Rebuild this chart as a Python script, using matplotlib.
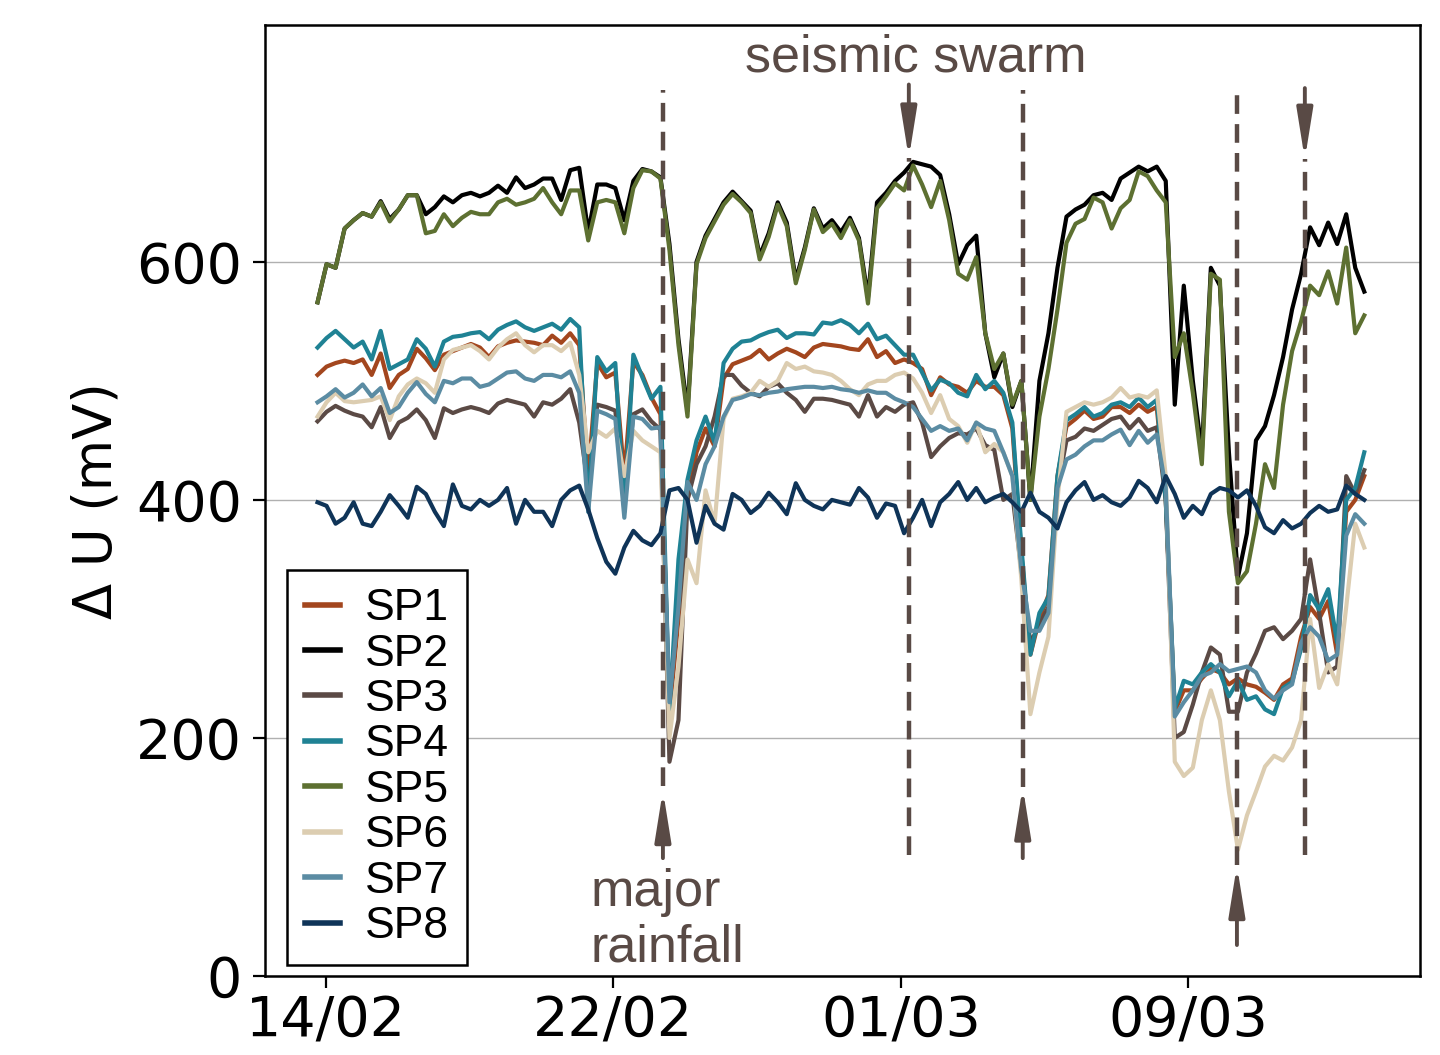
import numpy as np
import matplotlib
matplotlib.use("Agg")
import matplotlib.pyplot as plt

# ---------------- data ----------------
# sample times in days after 14/02 (one reading every ~6 h)
t = -0.234 + 0.2511 * np.arange(117)

SP1 = [505, 512, 515, 517, 515, 518, 505, 523, 494, 505,
       510, 527, 519, 509, 522, 525, 528, 531, 528, 520,
       529, 532, 534, 533, 532, 530, 538, 532, 540, 530,
       420, 515, 503, 507, 420, 516, 505, 486, 472, 220,
       300, 400, 440, 460, 445, 502, 514, 517, 520, 526,
       518, 523, 527, 524, 520, 528, 531, 530, 529, 527,
       526, 535, 520, 525, 515, 518, 515, 510, 488, 503,
       497, 495, 490, 500, 495, 495, 488, 460, 355, 270,
       300, 320, 420, 462, 468, 475, 468, 470, 478, 478,
       473, 480, 474, 478, 400, 222, 240, 240, 250, 258,
       255, 245, 250, 245, 243, 238, 232, 245, 250, 285,
       310, 300, 315, 270, 390, 400, 420]

SP2 = [566, 598, 595, 628, 635, 641, 638, 651, 636, 644,
       656, 656, 640, 646, 655, 650, 656, 658, 655, 658,
       664, 658, 671, 662, 665, 670, 670, 652, 677, 679,
       625, 665, 665, 662, 635, 668, 678, 676, 671, 615,
       535, 475, 600, 622, 636, 650, 659, 651, 643, 605,
       624, 650, 633, 585, 612, 645, 628, 635, 625, 637,
       620, 570, 650, 658, 668, 675, 684, 682, 680, 673,
       640, 598, 614, 622, 540, 503, 523, 478, 500, 400,
       500, 540, 595, 638, 644, 648, 656, 658, 652, 670,
       675, 680, 676, 680, 668, 480, 580, 500, 440, 595,
       580, 440, 335, 372, 450, 462, 488, 520, 560, 590,
       629, 614, 633, 615, 640, 595, 575]

SP3 = [466, 474, 479, 475, 472, 470, 461, 478, 452, 465,
       469, 476, 467, 452, 477, 473, 476, 478, 476, 473,
       481, 484, 482, 480, 470, 482, 480, 485, 493, 465,
       410, 480, 478, 475, 400, 472, 476, 466, 459, 180,
       215, 400, 430, 445, 470, 505, 505, 496, 490, 487,
       495, 498, 490, 484, 474, 485, 485, 484, 482, 480,
       470, 488, 470, 478, 474, 480, 482, 465, 436, 445,
       452, 456, 455, 460, 446, 442, 400, 405, 340, 280,
       295, 310, 410, 450, 453, 460, 458, 463, 468, 470,
       460, 468, 458, 461, 400, 200, 205, 228, 255, 276,
       270, 222, 222, 255, 271, 290, 293, 283, 290, 300,
       350, 305, 255, 260, 420, 405, 425]

SP4 = [528, 536, 542, 535, 528, 533, 518, 542, 510, 514,
       518, 535, 527, 512, 533, 537, 538, 540, 541, 535,
       543, 547, 550, 545, 542, 545, 548, 543, 552, 545,
       390, 520, 508, 515, 390, 522, 503, 485, 495, 222,
       350, 417, 450, 470, 448, 515, 527, 533, 534, 538,
       541, 543, 536, 540, 540, 539, 549, 548, 551, 547,
       540, 548, 535, 538, 530, 522, 522, 507, 492, 501,
       498, 490, 487, 505, 493, 500, 490, 465, 361, 270,
       305, 318, 420, 467, 472, 478, 470, 473, 480, 482,
       478, 486, 478, 484, 400, 225, 248, 245, 255, 262,
       255, 235, 248, 232, 235, 224, 220, 242, 247, 275,
       320, 308, 325, 280, 400, 410, 440]

SP5 = [566, 598, 595, 628, 635, 641, 638, 650, 634, 644,
       656, 656, 624, 626, 640, 630, 637, 642, 640, 640,
       650, 653, 648, 650, 653, 662, 650, 640, 660, 660,
       618, 650, 652, 650, 624, 662, 677, 676, 670, 610,
       530, 470, 598, 620, 634, 648, 657, 650, 641, 602,
       621, 648, 630, 582, 610, 644, 625, 632, 620, 635,
       618, 565, 645, 655, 666, 660, 681, 665, 646, 668,
       635, 590, 585, 604, 540, 510, 523, 480, 500, 400,
       470, 510, 560, 616, 632, 636, 654, 650, 628, 645,
       652, 676, 672, 660, 650, 520, 540, 490, 430, 590,
       585, 390, 330, 340, 380, 430, 410, 480, 525, 550,
       580, 572, 592, 565, 612, 540, 555]

SP6 = [470, 482, 490, 483, 482, 483, 484, 487, 467, 487,
       497, 502, 498, 490, 518, 526, 528, 530, 525, 518,
       528, 535, 540, 530, 524, 530, 530, 525, 532, 505,
       440, 458, 453, 460, 420, 458, 450, 445, 440, 200,
       260, 350, 330, 408, 380, 468, 485, 487, 490, 500,
       495, 500, 515, 510, 512, 508, 507, 505, 500, 493,
       488, 497, 500, 500, 505, 507, 502, 490, 473, 488,
       468, 462, 448, 465, 440, 447, 440, 420, 333, 220,
       255, 285, 400, 474, 478, 482, 480, 482, 486, 494,
       486, 488, 486, 492, 420, 180, 168, 175, 215, 240,
       215, 155, 106, 135, 155, 176, 185, 181, 192, 215,
       300, 242, 262, 245, 310, 380, 360]

SP7 = [482, 487, 493, 486, 490, 497, 487, 494, 473, 478,
       490, 499, 489, 482, 500, 498, 502, 502, 495, 497,
       502, 507, 508, 502, 500, 505, 505, 503, 508, 490,
       390, 475, 472, 468, 385, 470, 468, 460, 461, 230,
       310, 415, 400, 430, 445, 470, 484, 486, 489, 488,
       490, 491, 493, 494, 495, 495, 494, 495, 493, 492,
       490, 492, 490, 490, 485, 482, 478, 468, 458, 462,
       458, 460, 450, 465, 460, 458, 440, 420, 341, 290,
       290, 305, 410, 434, 438, 445, 450, 450, 455, 459,
       446, 458, 448, 455, 410, 218, 230, 240, 252, 255,
       262, 256, 258, 260, 255, 240, 233, 240, 245, 280,
       293, 285, 265, 270, 370, 388, 380]

SP8 = [398, 395, 380, 385, 398, 380, 378, 390, 404, 395,
       385, 411, 405, 390, 378, 413, 395, 392, 400, 395,
       400, 410, 380, 400, 390, 390, 378, 400, 408, 412,
       392, 368, 348, 338, 360, 374, 366, 362, 372, 408,
       410, 400, 364, 395, 380, 375, 405, 400, 389, 395,
       406, 398, 388, 414, 400, 395, 392, 400, 398, 396,
       410, 402, 385, 397, 395, 372, 385, 400, 378, 398,
       405, 415, 400, 410, 398, 402, 405, 398, 390, 406,
       390, 385, 376, 398, 408, 415, 400, 404, 398, 395,
       402, 416, 410, 398, 420, 405, 385, 395, 388, 405,
       410, 408, 402, 408, 395, 377, 372, 383, 376, 380,
       389, 395, 390, 392, 412, 405, 400]

series_names = ["SP1", "SP2", "SP3", "SP4", "SP5", "SP6", "SP7", "SP8"]
series_values = [SP1, SP2, SP3, SP4, SP5, SP6, SP7, SP8]
series_colors = ["#a3461e", "#000000", "#5b4a45", "#1f8294",
                 "#5d7031", "#dccdb1", "#5b8ca3", "#0f3458"]

tick_days = [0, 8, 16, 24]
tick_labels = ["14/02", "22/02", "01/03", "09/03"]

# events: day, dashed line top/bottom (mV), arrow tail/tip (mV)
event_days = [9.377, 16.22, 19.39, 25.35, 27.24]
line_top = [744, 687, 744, 744, 686]
line_bottom = [160, 102, 159, 93, 102]
arrow_tail = [99, 749, 99, 26, 746]
arrow_tip = [156, 687, 159, 93, 686]

# ---------------- plot ----------------
fig = plt.figure(figsize=(14.4, 10.55), dpi=100)
ax = fig.add_axes([0.184, 0.0749, 0.802, 0.9014])

ev_col = "#594a45"

for name, vals, col in zip(series_names, series_values, series_colors):
    ax.plot(t, vals, color=col, lw=3.0, label=name, solid_joinstyle="round")

for d, top, bot, tail, tip in zip(event_days, line_top, line_bottom, arrow_tail, arrow_tip):
    ax.plot([d, d], [bot, top], color=ev_col, lw=3.2, linestyle=(0, (4.2, 2.3)), zorder=5)
    ax.annotate("", xy=(d, tip), xytext=(d, tail),
                arrowprops=dict(arrowstyle="-|>,head_length=1.5,head_width=0.24",
                                mutation_scale=20, color=ev_col, lw=2.8,
                                shrinkA=0, shrinkB=0),
                zorder=6)

ax.text(16.42, 760, "seismic swarm", fontsize=37.5, color=ev_col,
        family="Liberation Sans", ha="center", va="baseline")
ax.text(7.37, 59, "major", fontsize=37.5, color=ev_col,
        family="Liberation Sans", ha="left", va="baseline")
ax.text(7.37, 12, "rainfall", fontsize=37.5, color=ev_col,
        family="Liberation Sans", ha="left", va="baseline")

ax.set_xlim(-1.697, 30.44)
ax.set_ylim(0, 799)
ax.set_xticks(tick_days)
ax.set_xticklabels(tick_labels)
ax.set_yticks([0, 200, 400, 600])
ax.tick_params(axis="both", labelsize=40, length=8.5, width=1.6, direction="out")
ax.tick_params(axis="y", pad=8)
ax.tick_params(axis="x", pad=5)
ax.yaxis.grid(True, color="#b0b0b0", lw=1.0)
ax.set_axisbelow(True)
for sp in ax.spines.values():
    sp.set_linewidth(1.8)
    sp.set_color("black")

ax.set_ylabel("Δ U (mV)", fontsize=38, labelpad=10)

leg = ax.legend(loc="lower left", bbox_to_anchor=(0.019, 0.0116), borderaxespad=0,
                prop={"family": "Liberation Sans", "size": 32},
                handlelength=0.8, handletextpad=0.55, labelspacing=0.1,
                borderpad=0.4, fancybox=False, framealpha=1, edgecolor="black")
leg.get_frame().set_linewidth(1.8)
for line in leg.get_lines():
    line.set_linewidth(4.0)

fig.savefig("out.png", dpi=100)
